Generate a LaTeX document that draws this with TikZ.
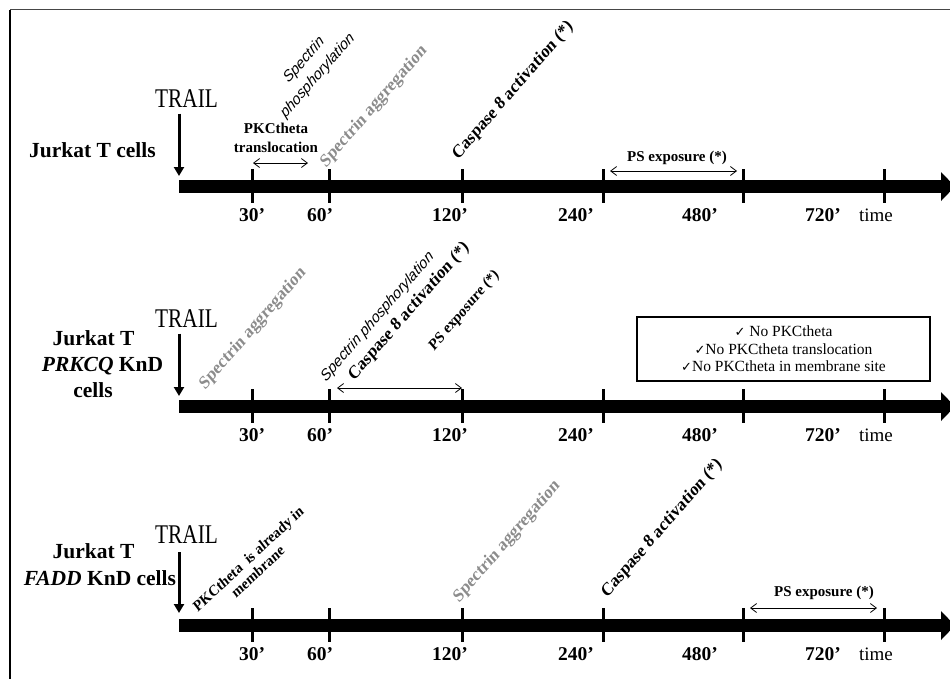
\documentclass[tikz,border=0pt]{standalone}
\usepackage{fontspec}
\usepackage{graphicx}
\setmainfont{Liberation Serif}
\newfontfamily\arialfont{Liberation Sans}
\newfontfamily\dejavufont{DejaVu Sans}
\usetikzlibrary{arrows.meta}
\definecolor{aggrgray}{RGB}{140,140,140}
\definecolor{framegray}{RGB}{70,70,70}
\newcommand\checkglyph{{\dejavufont\fontsize{13}{13}\selectfont ✓}}
% #1 horizontal squeeze, #2 node style, #3 name, #4 position, #5 text
\newcommand\slantlabel[5][0.87]{%
  \begin{scope}[shift={#4}, xscale=#1]
    \node[#2, transform shape] (#3) at (0,0) {#5};
  \end{scope}}
\begin{document}
\begin{tikzpicture}[x=1pt,y=-1pt,
  every node/.style={inner sep=0pt, outer sep=0pt},
  bar/.style={line width=13.5pt},
  tickmark/.style={line width=3pt},
  trailarrow/.style={line width=3pt, -{Triangle[length=9pt,width=10pt]}},
  spanarrow/.style={line width=0.8pt, {Straight Barb[length=6pt,width=9pt]}-{Straight Barb[length=6pt,width=9pt]}},
  ticklabel/.style={font=\fontsize{19.5}{20}\selectfont\bfseries, anchor=base},
  timelabel/.style={font=\fontsize{19}{20}\selectfont, anchor=base},
  traillabel/.style={font=\fontsize{27}{28}\selectfont, anchor=base},
  rowlabel/.style={font=\fontsize{21.5}{26}\selectfont\bfseries, anchor=base},
  event/.style={font=\fontsize{15}{19}\selectfont\bfseries, align=center},
  rotbold/.style={font=\fontsize{18.5}{20}\selectfont\bfseries, rotate=45, anchor=base west},
  rotgray/.style={rotbold, text=aggrgray},
  rotital/.style={font=\arialfont\itshape\fontsize{16}{22}\selectfont, rotate=45, align=center},
  notebox/.style={draw, line width=2pt, minimum width=293pt, minimum height=64pt, align=center, font=\fontsize{15.5}{17.5}\selectfont}
]
\useasboundingbox (0,0) rectangle (950,678);
% frame
\coordinate (fbl) at (10,680);
\coordinate (ftl) at (10,9.5);
\coordinate (ftr) at (952,9.5);
\draw[black, line width=1.5pt] (fbl) -- (ftl);
\draw[framegray, line width=1.5pt] (ftl) -- (ftr);

% timelines
\foreach \r/\c/\tb/\ta/\tt in {1/186.5/79.5/73/10.5, 2/406.5/79.5/73/10.5, 3/625.5/82.5/73.5/12.5}{
  \coordinate (bs\r) at (179,\c);
  \coordinate (be\r) at (941,\c);
  \draw[bar] (bs\r) -- (be\r);
  \fill (941,\c-14.5) -- (955,\c) -- (941,\c+14.5) -- cycle;
  \foreach \k/\x in {a/252, b/329, c/462, d/603, e/743, f/884}{
    \coordinate (t\r\k) at (\x,\c);
    \draw[tickmark] ([yshift=17.5pt]t\r\k) -- ([yshift=-16.5pt]t\r\k);
  }
  \foreach \k/\x/\lab in {a/252/30’, b/320/60’, c/450/120’, d/576/240’, e/700/480’, f/823/720’}{
    \node[ticklabel] (l\r\k) at (\x,\c+35) {\lab};
  }
  \node[timelabel] (tm\r) at (876,\c+35) {time};
  \node[traillabel] (trail\r) at (186.5,\c-\tb) {\scalebox{0.79}[1]{TRAIL}};
  \coordinate (ta\r) at (179,\c-\ta);
  \coordinate (tz\r) at (179,\c-\tt);
  \draw[trailarrow] (ta\r) -- (tz\r);
}

% row 1
\node[rowlabel] (r1) at (92.5,157) {Jurkat T cells};
\node[event] (pkc1) at (276,137.5) {PKCtheta\\translocation};
\coordinate (pa1) at (253,163);
\coordinate (pb1) at (308,163);
\draw[spanarrow] (pa1) -- (pb1);
\slantlabel{rotital, anchor=center}{sp1}{(311,68)}{Spectrin\\phosphorylation}
\slantlabel{rotgray}{sa1}{(326,168)}{Spectrin aggregation}
\slantlabel{rotbold}{ca1}{(458,160)}{Caspase 8 activation (*)}
\node[event] (ps1) at (677,157.5) {PS exposure (*)};
\coordinate (qa1) at (610,171);
\coordinate (qb1) at (737,171);
\draw[spanarrow] (qa1) -- (qb1);

% row 2
\node[rowlabel] (r2a) at (93.5,345) {Jurkat T};
\node[rowlabel] (r2b) at (102.5,371) {\textit{PRKCQ} KnD};
\node[rowlabel] (r2c) at (93,397) {cells};
\slantlabel{rotgray}{sa2}{(205,390)}{Spectrin aggregation}
\slantlabel{rotital, anchor=base west}{sp2}{(326,382)}{Spectrin phosphorylation}
\slantlabel{rotbold}{ca2}{(354,381)}{Caspase 8 activation (*)}
\slantlabel{rotbold, font=\fontsize{16}{18}\selectfont\bfseries}{ps2}{(434,351)}{PS exposure (*)}
\coordinate (qa2) at (337,388);
\coordinate (qb2) at (462,388);
\draw[spanarrow] (qa2) -- (qb2);
\node[notebox] (box) at (783.5,349) {\checkglyph\ No PKCtheta\\\checkglyph No PKCtheta translocation\\\checkglyph No PKCtheta in membrane site};

% row 3
\node[rowlabel] (r3a) at (93.5,558) {Jurkat T};
\node[rowlabel] (r3b) at (100,585) {\textit{FADD} KnD cells};
\slantlabel[0.9]{font=\fontsize{15.5}{16.5}\selectfont\bfseries, rotate=40, align=center}{pkc3}{(253,565)}{PKCtheta\ \ is already in\\membrane}
\slantlabel{rotgray}{sa3}{(459,603)}{Spectrin aggregation}
\slantlabel{rotbold}{ca3}{(607,598)}{Caspase 8 activation (*)}
\node[event] (ps3) at (824,592.5) {PS exposure (*)};
\coordinate (qa3) at (750,608);
\coordinate (qb3) at (877,608);
\draw[spanarrow] (qa3) -- (qb3);
\end{tikzpicture}
\end{document}
